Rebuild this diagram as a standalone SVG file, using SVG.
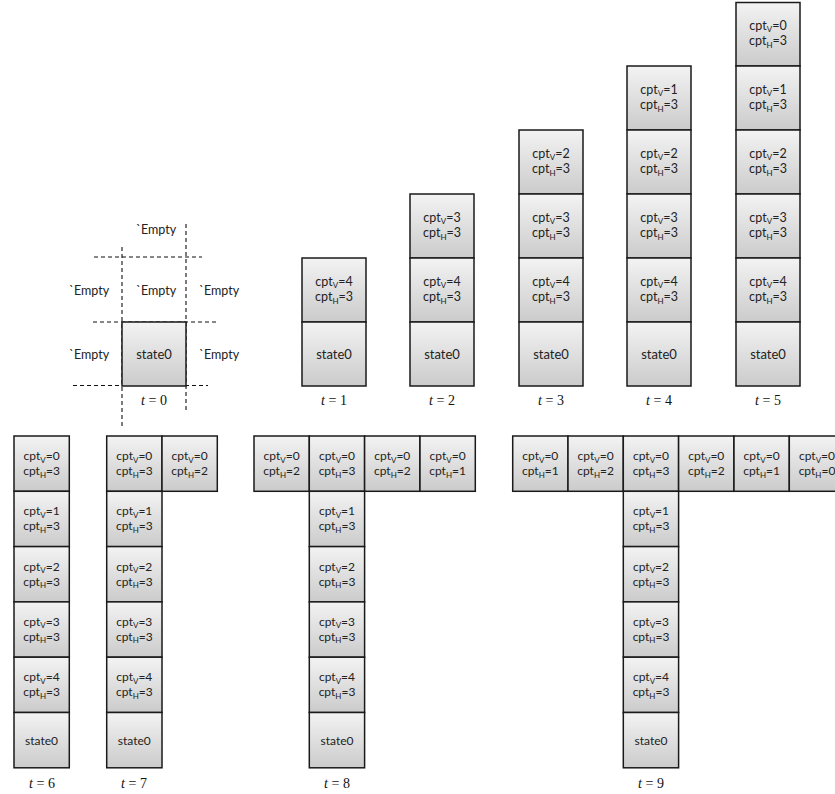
<svg xmlns="http://www.w3.org/2000/svg" width="835" height="794" viewBox="0 0 835 794">
<defs>
<linearGradient id="g" x1="0" y1="0" x2="0" y2="1">
<stop offset="0" stop-color="#f3f3f3"/>
<stop offset="1" stop-color="#cbcbcb"/>
</linearGradient>
<style>
.cell{fill:url(#g);stroke:#1a1a1a;stroke-width:1.5}
.tx{font-family:Lato,"Open Sans","Liberation Sans",sans-serif;font-size:12.5px;fill:#222;text-anchor:middle}
.st{font-size:13px}
.sm{font-size:12px}
.sub{font-size:8px}
.em{font-family:Lato,"Open Sans","Liberation Sans",sans-serif;font-size:12.5px;fill:#222;text-anchor:middle}
.lb{font-family:"Liberation Serif","Times New Roman",serif;font-size:14px;fill:#111;text-anchor:middle}
.dash{stroke:#111;stroke-width:1.1;stroke-dasharray:4,3;fill:none}
</style>
</defs>
<rect width="835" height="794" fill="#fff"/>

<g id="connectors">
<line class="dash" x1="122" y1="247" x2="122" y2="428"/>
<line class="dash" x1="186" y1="224" x2="186" y2="412"/>
<line class="dash" x1="94" y1="257" x2="202" y2="257"/>
<line class="dash" x1="93" y1="322" x2="218" y2="322"/>
<line class="dash" x1="73" y1="385.5" x2="208" y2="385.5"/>
</g>

<g id="t0">
<text class="em" x="156" y="234">`Empty</text>
<text class="em" x="89" y="295">`Empty</text>
<text class="em" x="156" y="295">`Empty</text>
<text class="em" x="219" y="295">`Empty</text>
<text class="em" x="89" y="359">`Empty</text>
<text class="em" x="219" y="359">`Empty</text>
<g id="t0-s"><rect class="cell" x="122" y="322" width="64" height="64"/><text class="tx st" x="154" y="359">state0</text></g>
<text class="lb" x="154" y="405"><tspan font-style="italic">t</tspan> = 0</text>
</g>

<!-- t=1 -->
<g id="t1-v4"><rect class="cell" x="302" y="258" width="64" height="64"/><text class="tx" x="334" y="285.5">cpt<tspan class="sub" dy="2.5">V</tspan><tspan dy="-2.5">=4</tspan><tspan x="334" y="301">cpt</tspan><tspan class="sub" dy="2.5">H</tspan><tspan dy="-2.5">=3</tspan></text></g>
<g id="t1-s"><rect class="cell" x="302" y="322" width="64" height="64"/><text class="tx st" x="334" y="359">state0</text></g>
<text class="lb" x="334" y="405"><tspan font-style="italic">t</tspan> = 1</text>

<!-- t=2 -->
<g id="t2-v3"><rect class="cell" x="410" y="194" width="64" height="64"/><text class="tx" x="442" y="221.5">cpt<tspan class="sub" dy="2.5">V</tspan><tspan dy="-2.5">=3</tspan><tspan x="442" y="237">cpt</tspan><tspan class="sub" dy="2.5">H</tspan><tspan dy="-2.5">=3</tspan></text></g>
<g id="t2-v4"><rect class="cell" x="410" y="258" width="64" height="64"/><text class="tx" x="442" y="285.5">cpt<tspan class="sub" dy="2.5">V</tspan><tspan dy="-2.5">=4</tspan><tspan x="442" y="301">cpt</tspan><tspan class="sub" dy="2.5">H</tspan><tspan dy="-2.5">=3</tspan></text></g>
<g id="t2-s"><rect class="cell" x="410" y="322" width="64" height="64"/><text class="tx st" x="442" y="359">state0</text></g>
<text class="lb" x="442" y="405"><tspan font-style="italic">t</tspan> = 2</text>

<!-- t=3 -->
<g id="t3-v2"><rect class="cell" x="519" y="130" width="64" height="64"/><text class="tx" x="551" y="157.5">cpt<tspan class="sub" dy="2.5">V</tspan><tspan dy="-2.5">=2</tspan><tspan x="551" y="173">cpt</tspan><tspan class="sub" dy="2.5">H</tspan><tspan dy="-2.5">=3</tspan></text></g>
<g id="t3-v3"><rect class="cell" x="519" y="194" width="64" height="64"/><text class="tx" x="551" y="221.5">cpt<tspan class="sub" dy="2.5">V</tspan><tspan dy="-2.5">=3</tspan><tspan x="551" y="237">cpt</tspan><tspan class="sub" dy="2.5">H</tspan><tspan dy="-2.5">=3</tspan></text></g>
<g id="t3-v4"><rect class="cell" x="519" y="258" width="64" height="64"/><text class="tx" x="551" y="285.5">cpt<tspan class="sub" dy="2.5">V</tspan><tspan dy="-2.5">=4</tspan><tspan x="551" y="301">cpt</tspan><tspan class="sub" dy="2.5">H</tspan><tspan dy="-2.5">=3</tspan></text></g>
<g id="t3-s"><rect class="cell" x="519" y="322" width="64" height="64"/><text class="tx st" x="551" y="359">state0</text></g>
<text class="lb" x="551" y="405"><tspan font-style="italic">t</tspan> = 3</text>

<!-- t=4 -->
<g id="t4-v1"><rect class="cell" x="627" y="66" width="64" height="64"/><text class="tx" x="659" y="93.5">cpt<tspan class="sub" dy="2.5">V</tspan><tspan dy="-2.5">=1</tspan><tspan x="659" y="109">cpt</tspan><tspan class="sub" dy="2.5">H</tspan><tspan dy="-2.5">=3</tspan></text></g>
<g id="t4-v2"><rect class="cell" x="627" y="130" width="64" height="64"/><text class="tx" x="659" y="157.5">cpt<tspan class="sub" dy="2.5">V</tspan><tspan dy="-2.5">=2</tspan><tspan x="659" y="173">cpt</tspan><tspan class="sub" dy="2.5">H</tspan><tspan dy="-2.5">=3</tspan></text></g>
<g id="t4-v3"><rect class="cell" x="627" y="194" width="64" height="64"/><text class="tx" x="659" y="221.5">cpt<tspan class="sub" dy="2.5">V</tspan><tspan dy="-2.5">=3</tspan><tspan x="659" y="237">cpt</tspan><tspan class="sub" dy="2.5">H</tspan><tspan dy="-2.5">=3</tspan></text></g>
<g id="t4-v4"><rect class="cell" x="627" y="258" width="64" height="64"/><text class="tx" x="659" y="285.5">cpt<tspan class="sub" dy="2.5">V</tspan><tspan dy="-2.5">=4</tspan><tspan x="659" y="301">cpt</tspan><tspan class="sub" dy="2.5">H</tspan><tspan dy="-2.5">=3</tspan></text></g>
<g id="t4-s"><rect class="cell" x="627" y="322" width="64" height="64"/><text class="tx st" x="659" y="359">state0</text></g>
<text class="lb" x="659" y="405"><tspan font-style="italic">t</tspan> = 4</text>

<!-- t=5 -->
<g id="t5-v0"><rect class="cell" x="736" y="2.5" width="64" height="63.5"/><text class="tx" x="768" y="29.5">cpt<tspan class="sub" dy="2.5">V</tspan><tspan dy="-2.5">=0</tspan><tspan x="768" y="45">cpt</tspan><tspan class="sub" dy="2.5">H</tspan><tspan dy="-2.5">=3</tspan></text></g>
<g id="t5-v1"><rect class="cell" x="736" y="66" width="64" height="64"/><text class="tx" x="768" y="93.5">cpt<tspan class="sub" dy="2.5">V</tspan><tspan dy="-2.5">=1</tspan><tspan x="768" y="109">cpt</tspan><tspan class="sub" dy="2.5">H</tspan><tspan dy="-2.5">=3</tspan></text></g>
<g id="t5-v2"><rect class="cell" x="736" y="130" width="64" height="64"/><text class="tx" x="768" y="157.5">cpt<tspan class="sub" dy="2.5">V</tspan><tspan dy="-2.5">=2</tspan><tspan x="768" y="173">cpt</tspan><tspan class="sub" dy="2.5">H</tspan><tspan dy="-2.5">=3</tspan></text></g>
<g id="t5-v3"><rect class="cell" x="736" y="194" width="64" height="64"/><text class="tx" x="768" y="221.5">cpt<tspan class="sub" dy="2.5">V</tspan><tspan dy="-2.5">=3</tspan><tspan x="768" y="237">cpt</tspan><tspan class="sub" dy="2.5">H</tspan><tspan dy="-2.5">=3</tspan></text></g>
<g id="t5-v4"><rect class="cell" x="736" y="258" width="64" height="64"/><text class="tx" x="768" y="285.5">cpt<tspan class="sub" dy="2.5">V</tspan><tspan dy="-2.5">=4</tspan><tspan x="768" y="301">cpt</tspan><tspan class="sub" dy="2.5">H</tspan><tspan dy="-2.5">=3</tspan></text></g>
<g id="t5-s"><rect class="cell" x="736" y="322" width="64" height="64"/><text class="tx st" x="768" y="359">state0</text></g>
<text class="lb" x="768" y="405"><tspan font-style="italic">t</tspan> = 5</text>

<!-- t=6 -->
<g id="t6-v0"><rect class="cell" x="14" y="436" width="55.3" height="55.3"/><text class="tx sm" x="41.6" y="460">cpt<tspan class="sub" dy="2.5">V</tspan><tspan dy="-2.5">=0</tspan><tspan x="41.6" y="475">cpt</tspan><tspan class="sub" dy="2.5">H</tspan><tspan dy="-2.5">=3</tspan></text></g>
<g id="t6-v1"><rect class="cell" x="14" y="491.3" width="55.3" height="55.3"/><text class="tx sm" x="41.6" y="515.3">cpt<tspan class="sub" dy="2.5">V</tspan><tspan dy="-2.5">=1</tspan><tspan x="41.6" y="530.3">cpt</tspan><tspan class="sub" dy="2.5">H</tspan><tspan dy="-2.5">=3</tspan></text></g>
<g id="t6-v2"><rect class="cell" x="14" y="546.6" width="55.3" height="55.3"/><text class="tx sm" x="41.6" y="570.6">cpt<tspan class="sub" dy="2.5">V</tspan><tspan dy="-2.5">=2</tspan><tspan x="41.6" y="585.6">cpt</tspan><tspan class="sub" dy="2.5">H</tspan><tspan dy="-2.5">=3</tspan></text></g>
<g id="t6-v3"><rect class="cell" x="14" y="601.9" width="55.3" height="55.3"/><text class="tx sm" x="41.6" y="625.9">cpt<tspan class="sub" dy="2.5">V</tspan><tspan dy="-2.5">=3</tspan><tspan x="41.6" y="640.9">cpt</tspan><tspan class="sub" dy="2.5">H</tspan><tspan dy="-2.5">=3</tspan></text></g>
<g id="t6-v4"><rect class="cell" x="14" y="657.2" width="55.3" height="55.3"/><text class="tx sm" x="41.6" y="681.2">cpt<tspan class="sub" dy="2.5">V</tspan><tspan dy="-2.5">=4</tspan><tspan x="41.6" y="696.2">cpt</tspan><tspan class="sub" dy="2.5">H</tspan><tspan dy="-2.5">=3</tspan></text></g>
<g id="t6-s"><rect class="cell" x="14" y="712.5" width="55.3" height="55.3"/><text class="tx sm" x="41.6" y="744.5">state0</text></g>
<text class="lb" x="42" y="788"><tspan font-style="italic">t</tspan> = 6</text>

<!-- t=7 -->
<g id="t7-v0"><rect class="cell" x="106.7" y="436" width="55.3" height="55.3"/><text class="tx sm" x="134.3" y="460">cpt<tspan class="sub" dy="2.5">V</tspan><tspan dy="-2.5">=0</tspan><tspan x="134.3" y="475">cpt</tspan><tspan class="sub" dy="2.5">H</tspan><tspan dy="-2.5">=3</tspan></text></g>
<g id="t7-h2"><rect class="cell" x="162" y="436" width="55.3" height="55.3"/><text class="tx sm" x="189.6" y="460">cpt<tspan class="sub" dy="2.5">V</tspan><tspan dy="-2.5">=0</tspan><tspan x="189.6" y="475">cpt</tspan><tspan class="sub" dy="2.5">H</tspan><tspan dy="-2.5">=2</tspan></text></g>
<g id="t7-v1"><rect class="cell" x="106.7" y="491.3" width="55.3" height="55.3"/><text class="tx sm" x="134.3" y="515.3">cpt<tspan class="sub" dy="2.5">V</tspan><tspan dy="-2.5">=1</tspan><tspan x="134.3" y="530.3">cpt</tspan><tspan class="sub" dy="2.5">H</tspan><tspan dy="-2.5">=3</tspan></text></g>
<g id="t7-v2"><rect class="cell" x="106.7" y="546.6" width="55.3" height="55.3"/><text class="tx sm" x="134.3" y="570.6">cpt<tspan class="sub" dy="2.5">V</tspan><tspan dy="-2.5">=2</tspan><tspan x="134.3" y="585.6">cpt</tspan><tspan class="sub" dy="2.5">H</tspan><tspan dy="-2.5">=3</tspan></text></g>
<g id="t7-v3"><rect class="cell" x="106.7" y="601.9" width="55.3" height="55.3"/><text class="tx sm" x="134.3" y="625.9">cpt<tspan class="sub" dy="2.5">V</tspan><tspan dy="-2.5">=3</tspan><tspan x="134.3" y="640.9">cpt</tspan><tspan class="sub" dy="2.5">H</tspan><tspan dy="-2.5">=3</tspan></text></g>
<g id="t7-v4"><rect class="cell" x="106.7" y="657.2" width="55.3" height="55.3"/><text class="tx sm" x="134.3" y="681.2">cpt<tspan class="sub" dy="2.5">V</tspan><tspan dy="-2.5">=4</tspan><tspan x="134.3" y="696.2">cpt</tspan><tspan class="sub" dy="2.5">H</tspan><tspan dy="-2.5">=3</tspan></text></g>
<g id="t7-s"><rect class="cell" x="106.7" y="712.5" width="55.3" height="55.3"/><text class="tx sm" x="134.3" y="744.5">state0</text></g>
<text class="lb" x="134" y="788"><tspan font-style="italic">t</tspan> = 7</text>

<!-- t=8 -->
<g id="t8-l2"><rect class="cell" x="254" y="436" width="55.3" height="55.3"/><text class="tx sm" x="281.6" y="460">cpt<tspan class="sub" dy="2.5">V</tspan><tspan dy="-2.5">=0</tspan><tspan x="281.6" y="475">cpt</tspan><tspan class="sub" dy="2.5">H</tspan><tspan dy="-2.5">=2</tspan></text></g>
<g id="t8-v0"><rect class="cell" x="309.3" y="436" width="55.3" height="55.3"/><text class="tx sm" x="337" y="460">cpt<tspan class="sub" dy="2.5">V</tspan><tspan dy="-2.5">=0</tspan><tspan x="337" y="475">cpt</tspan><tspan class="sub" dy="2.5">H</tspan><tspan dy="-2.5">=3</tspan></text></g>
<g id="t8-r2"><rect class="cell" x="364.6" y="436" width="55.3" height="55.3"/><text class="tx sm" x="392.3" y="460">cpt<tspan class="sub" dy="2.5">V</tspan><tspan dy="-2.5">=0</tspan><tspan x="392.3" y="475">cpt</tspan><tspan class="sub" dy="2.5">H</tspan><tspan dy="-2.5">=2</tspan></text></g>
<g id="t8-r1"><rect class="cell" x="420" y="436" width="55.3" height="55.3"/><text class="tx sm" x="447.6" y="460">cpt<tspan class="sub" dy="2.5">V</tspan><tspan dy="-2.5">=0</tspan><tspan x="447.6" y="475">cpt</tspan><tspan class="sub" dy="2.5">H</tspan><tspan dy="-2.5">=1</tspan></text></g>
<g id="t8-v1"><rect class="cell" x="309.3" y="491.3" width="55.3" height="55.3"/><text class="tx sm" x="337" y="515.3">cpt<tspan class="sub" dy="2.5">V</tspan><tspan dy="-2.5">=1</tspan><tspan x="337" y="530.3">cpt</tspan><tspan class="sub" dy="2.5">H</tspan><tspan dy="-2.5">=3</tspan></text></g>
<g id="t8-v2"><rect class="cell" x="309.3" y="546.6" width="55.3" height="55.3"/><text class="tx sm" x="337" y="570.6">cpt<tspan class="sub" dy="2.5">V</tspan><tspan dy="-2.5">=2</tspan><tspan x="337" y="585.6">cpt</tspan><tspan class="sub" dy="2.5">H</tspan><tspan dy="-2.5">=3</tspan></text></g>
<g id="t8-v3"><rect class="cell" x="309.3" y="601.9" width="55.3" height="55.3"/><text class="tx sm" x="337" y="625.9">cpt<tspan class="sub" dy="2.5">V</tspan><tspan dy="-2.5">=3</tspan><tspan x="337" y="640.9">cpt</tspan><tspan class="sub" dy="2.5">H</tspan><tspan dy="-2.5">=3</tspan></text></g>
<g id="t8-v4"><rect class="cell" x="309.3" y="657.2" width="55.3" height="55.3"/><text class="tx sm" x="337" y="681.2">cpt<tspan class="sub" dy="2.5">V</tspan><tspan dy="-2.5">=4</tspan><tspan x="337" y="696.2">cpt</tspan><tspan class="sub" dy="2.5">H</tspan><tspan dy="-2.5">=3</tspan></text></g>
<g id="t8-s"><rect class="cell" x="309.3" y="712.5" width="55.3" height="55.3"/><text class="tx sm" x="337" y="744.5">state0</text></g>
<text class="lb" x="337" y="788"><tspan font-style="italic">t</tspan> = 8</text>

<!-- t=9 -->
<g id="t9-l1"><rect class="cell" x="512.7" y="436" width="55.3" height="55.3"/><text class="tx sm" x="540.3" y="460">cpt<tspan class="sub" dy="2.5">V</tspan><tspan dy="-2.5">=0</tspan><tspan x="540.3" y="475">cpt</tspan><tspan class="sub" dy="2.5">H</tspan><tspan dy="-2.5">=1</tspan></text></g>
<g id="t9-l2"><rect class="cell" x="568" y="436" width="55.3" height="55.3"/><text class="tx sm" x="595.6" y="460">cpt<tspan class="sub" dy="2.5">V</tspan><tspan dy="-2.5">=0</tspan><tspan x="595.6" y="475">cpt</tspan><tspan class="sub" dy="2.5">H</tspan><tspan dy="-2.5">=2</tspan></text></g>
<g id="t9-v0"><rect class="cell" x="623.3" y="436" width="55.3" height="55.3"/><text class="tx sm" x="651" y="460">cpt<tspan class="sub" dy="2.5">V</tspan><tspan dy="-2.5">=0</tspan><tspan x="651" y="475">cpt</tspan><tspan class="sub" dy="2.5">H</tspan><tspan dy="-2.5">=3</tspan></text></g>
<g id="t9-r2"><rect class="cell" x="678.6" y="436" width="55.3" height="55.3"/><text class="tx sm" x="706.3" y="460">cpt<tspan class="sub" dy="2.5">V</tspan><tspan dy="-2.5">=0</tspan><tspan x="706.3" y="475">cpt</tspan><tspan class="sub" dy="2.5">H</tspan><tspan dy="-2.5">=2</tspan></text></g>
<g id="t9-r1"><rect class="cell" x="734" y="436" width="55.3" height="55.3"/><text class="tx sm" x="761.6" y="460">cpt<tspan class="sub" dy="2.5">V</tspan><tspan dy="-2.5">=0</tspan><tspan x="761.6" y="475">cpt</tspan><tspan class="sub" dy="2.5">H</tspan><tspan dy="-2.5">=1</tspan></text></g>
<g id="t9-r0"><rect class="cell" x="789.3" y="436" width="55.3" height="55.3"/><text class="tx sm" x="817" y="460">cpt<tspan class="sub" dy="2.5">V</tspan><tspan dy="-2.5">=0</tspan><tspan x="817" y="475">cpt</tspan><tspan class="sub" dy="2.5">H</tspan><tspan dy="-2.5">=0</tspan></text></g>
<g id="t9-v1"><rect class="cell" x="623.3" y="491.3" width="55.3" height="55.3"/><text class="tx sm" x="651" y="515.3">cpt<tspan class="sub" dy="2.5">V</tspan><tspan dy="-2.5">=1</tspan><tspan x="651" y="530.3">cpt</tspan><tspan class="sub" dy="2.5">H</tspan><tspan dy="-2.5">=3</tspan></text></g>
<g id="t9-v2"><rect class="cell" x="623.3" y="546.6" width="55.3" height="55.3"/><text class="tx sm" x="651" y="570.6">cpt<tspan class="sub" dy="2.5">V</tspan><tspan dy="-2.5">=2</tspan><tspan x="651" y="585.6">cpt</tspan><tspan class="sub" dy="2.5">H</tspan><tspan dy="-2.5">=3</tspan></text></g>
<g id="t9-v3"><rect class="cell" x="623.3" y="601.9" width="55.3" height="55.3"/><text class="tx sm" x="651" y="625.9">cpt<tspan class="sub" dy="2.5">V</tspan><tspan dy="-2.5">=3</tspan><tspan x="651" y="640.9">cpt</tspan><tspan class="sub" dy="2.5">H</tspan><tspan dy="-2.5">=3</tspan></text></g>
<g id="t9-v4"><rect class="cell" x="623.3" y="657.2" width="55.3" height="55.3"/><text class="tx sm" x="651" y="681.2">cpt<tspan class="sub" dy="2.5">V</tspan><tspan dy="-2.5">=4</tspan><tspan x="651" y="696.2">cpt</tspan><tspan class="sub" dy="2.5">H</tspan><tspan dy="-2.5">=3</tspan></text></g>
<g id="t9-s"><rect class="cell" x="623.3" y="712.5" width="55.3" height="55.3"/><text class="tx sm" x="651" y="744.5">state0</text></g>
<text class="lb" x="651" y="788"><tspan font-style="italic">t</tspan> = 9</text>
</svg>
